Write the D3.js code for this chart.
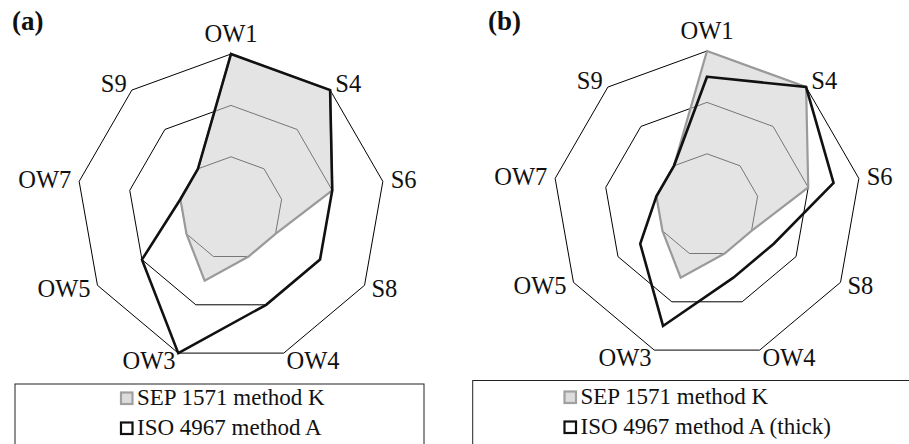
<!DOCTYPE html>
<html>
<head>
<meta charset="utf-8">
<script src="https://cdn.jsdelivr.net/npm/d3@7"></script>
<style>
  body { margin: 0; background: #fff; }
  text { font-family: "Liberation Serif", "DejaVu Serif", serif; fill: #111; }
</style>
</head>
<body>
<script>
// axes go clockwise starting at the top
var axisLabels = ["OW1", "S4", "S6", "S8", "OW4", "OW3", "OW5", "OW7", "S9"];
var ringTicks = [1, 2, 3];
var sepA = [3, 3, 2, 1, 1, 1.5, 1, 1, 1];
var isoA = [3, 3, 2, 2, 2, 3, 2, 1, 1];
var sepB = [3, 3, 2, 1, 1, 1.5, 1, 1, 1];
var isoB = [2.5, 3, 2.5, 1.5, 1.5, 2.5, 1.5, 1, 1];
var legendNames = ["SEP 1571 method K", "ISO 4967 method A"];

var svgWidth = 909, svgHeight = 444;
var R = 154.2;

var svg = d3.select("body")
    .append("svg")
    .attr("width", svgWidth)
    .attr("height", svgHeight);

function drawRadar(tag, cx, cy, sepData, isoData, isoName, legendBox) {

  var r = d3.scaleLinear()
      .domain([0, 3])
      .range([0, R]);

  var n = axisLabels.length;
  var angle = function(i) { return i * 2 * Math.PI / n; };

  var g = svg.append("g")
      .attr("transform", "translate(" + cx + "," + cy + ")");

  // rings
  g.selectAll(".ring")
    .data(ringTicks)
    .enter()
    .append("path")
    .attr("class", "ring")
    .attr("fill", "none")
    .attr("stroke", "#000")
    .attr("stroke-width", 1)
    .attr("d", function(t) {
      var line = d3.lineRadial()
          .angle(function(d, i) { return angle(i); })
          .radius(function() { return r(t); })
          .curve(d3.curveLinearClosed);
      return line(axisLabels);
    });

  var radar = d3.lineRadial()
      .angle(function(d, i) { return angle(i); })
      .radius(function(d) { return r(d); })
      .curve(d3.curveLinearClosed);

  // SEP series: translucent grey area
  g.append("path")
    .attr("d", radar(sepData))
    .attr("fill", "rgb(208,208,208)")
    .attr("fill-opacity", 0.57)
    .attr("stroke", "none");
  g.append("path")
    .attr("d", radar(sepData))
    .attr("fill", "none")
    .attr("stroke", "#9a9a9a")
    .attr("stroke-width", 2.2)
    .attr("stroke-linejoin", "miter");

  // ISO series: thick black line
  g.append("path")
    .attr("d", radar(isoData))
    .attr("fill", "none")
    .attr("stroke", "#111")
    .attr("stroke-width", 2.6)
    .attr("stroke-linejoin", "miter");

  // axis labels
  g.selectAll(".lab")
    .data(axisLabels)
    .enter()
    .append("text")
    .attr("class", "lab")
    .attr("font-size", 24.5)
    .attr("dy", "0.33em")
    .attr("text-anchor", function(d, i) {
      var s = Math.sin(angle(i));
      if (s > 0.1) return "start";
      if (s < -0.1) return "end";
      return "middle";
    })
    .attr("x", function(d, i) {
      return (R + 8) * Math.sin(angle(i));
    })
    .attr("y", function(d, i) {
      var s = Math.sin(angle(i));
      var extra = Math.abs(s) < 0.1 ? 12 : 0;
      return -(R + 8 + extra) * Math.cos(angle(i));
    })
    .text(function(d) { return d; });

  // panel tag
  svg.append("text")
    .attr("x", cx - 219)
    .attr("y", 30)
    .attr("font-size", 27)
    .attr("font-weight", "bold")
    .text(tag);

  // legend box
  var lg = svg.append("g");
  lg.append("rect")
    .attr("x", legendBox.x)
    .attr("y", legendBox.y)
    .attr("width", legendBox.w)
    .attr("height", 90)
    .attr("fill", "#fff")
    .attr("stroke", "#222")
    .attr("stroke-width", 1);

  var names = [legendNames[0], isoName];
  var sw = [{fill: "#dcdcdc", stroke: "#a0a0a0"}, {fill: "#fff", stroke: "#111"}];
  names.forEach(function(name, i) {
    var by = legendBox.textY + i * 30;
    lg.append("rect")
      .attr("x", legendBox.markX + 1)
      .attr("y", by - 12.5)
      .attr("width", 11.5)
      .attr("height", 11.5)
      .attr("fill", sw[i].fill)
      .attr("stroke", sw[i].stroke)
      .attr("stroke-width", 2.2);
    lg.append("text")
      .attr("x", legendBox.markX + 17)
      .attr("y", by)
      .attr("font-size", 23)
      .text(name);
  });
}

drawRadar("(a)", 231, 208.2, sepA, isoA, legendNames[1],
  {x: 15, y: 384, w: 409, markX: 120, textY: 405});
drawRadar("(b)", 707, 205.2, sepB, isoB, legendNames[1] + " (thick)",
  {x: 472.7, y: 380.5, w: 460, markX: 563.5, textY: 404});
</script>
</body>
</html>
